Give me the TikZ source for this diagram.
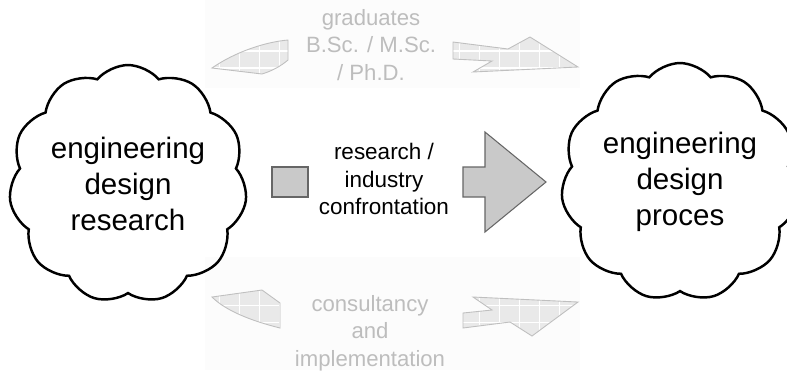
\documentclass[tikz,border=0pt]{standalone}
\usepackage{fontspec}
\setmainfont{Liberation Sans}
\usetikzlibrary{shapes.symbols}

\tikzset{
  cloudbox/.style={cloud, cloud puffs=11, cloud puff arc=100, draw=black,
    line width=1.4pt, align=center, inner sep=0pt,
    font=\fontsize{16.8}{20.6}\selectfont},
  paletext/.style={align=center, text=gray!52, font=\fontsize{12.6}{15.6}\selectfont},
  midtext/.style={align=center, font=\fontsize{12.8}{15.8}\selectfont},
  blockfill/.style={fill=gray!42, draw=gray!80!black, line width=0.6pt},
  backband/.style={fill=gray!2, draw=none}
}

% pale arrow piece with a white grid inside
\newcommand{\palepiece}[1]{%
  \begin{scope}
    \clip #1;
    \fill[gray!17] (200,0) rectangle (590,370);
    \draw[white, line width=0.6pt, xstep=0.4cm, ystep=0.34cm] (200,0) grid (590,370);
  \end{scope}
  \draw[gray!50, line width=0.5pt] #1;
}

\begin{document}
\begin{tikzpicture}[x=0.02cm, y=-0.02cm]
  \useasboundingbox (0,0) rectangle (787,370);
  % faint bands behind the pale arrows
  \fill[backband] (205,0) rectangle (580,88);
  \fill[backband] (205,257) rectangle (580,370);
  % draw pale arrows top and bottom
  \palepiece{(212,68) .. controls (235,52) and (265,42) .. (288,40) -- (288,60)
    .. controls (281,66) and (272,71) .. (262,74) -- cycle}
  \palepiece{(453,42) -- (508,49) -- (530,37) -- (578,67) -- (473,72)
    -- (492,61) -- (453,59) -- cycle}
  \palepiece{(212,297) -- (262,290) -- (280,303) -- (280,328)
    .. controls (252,321) and (226,311) .. cycle}
  \palepiece{(473,297) -- (578,302) -- (532,336) -- (510,322) -- (463,328)
    -- (463,313) -- (492,310) -- cycle}
  \node[paletext] (graduates) at (371,45) {graduates\\B.Sc. / M.Sc.\\/ Ph.D.};
  \node[paletext] (consultancy) at (370,333) {consultancy\\and\\implementation};
  % draw the block arrow in the middle
  \draw[blockfill] (272,167) rectangle (308,197);
  \draw[blockfill] (463,167) -- (485,167) -- (485,132) -- (546,182)
    -- (485,232) -- (485,197) -- (463,197) -- cycle;
  \node[midtext] (confrontation) at (384,179) {research /\\industry\\confrontation};
  % draw the two clouds
  \node[cloudbox, minimum width=4.7cm, minimum height=4.3cm] (research)
    at (128,184) {engineering\\design\\research};
  \node[cloudbox, minimum width=4.6cm, minimum height=4.6cm] (proces)
    at (680,182) {engineering\\design\\proces};
\end{tikzpicture}
\end{document}
